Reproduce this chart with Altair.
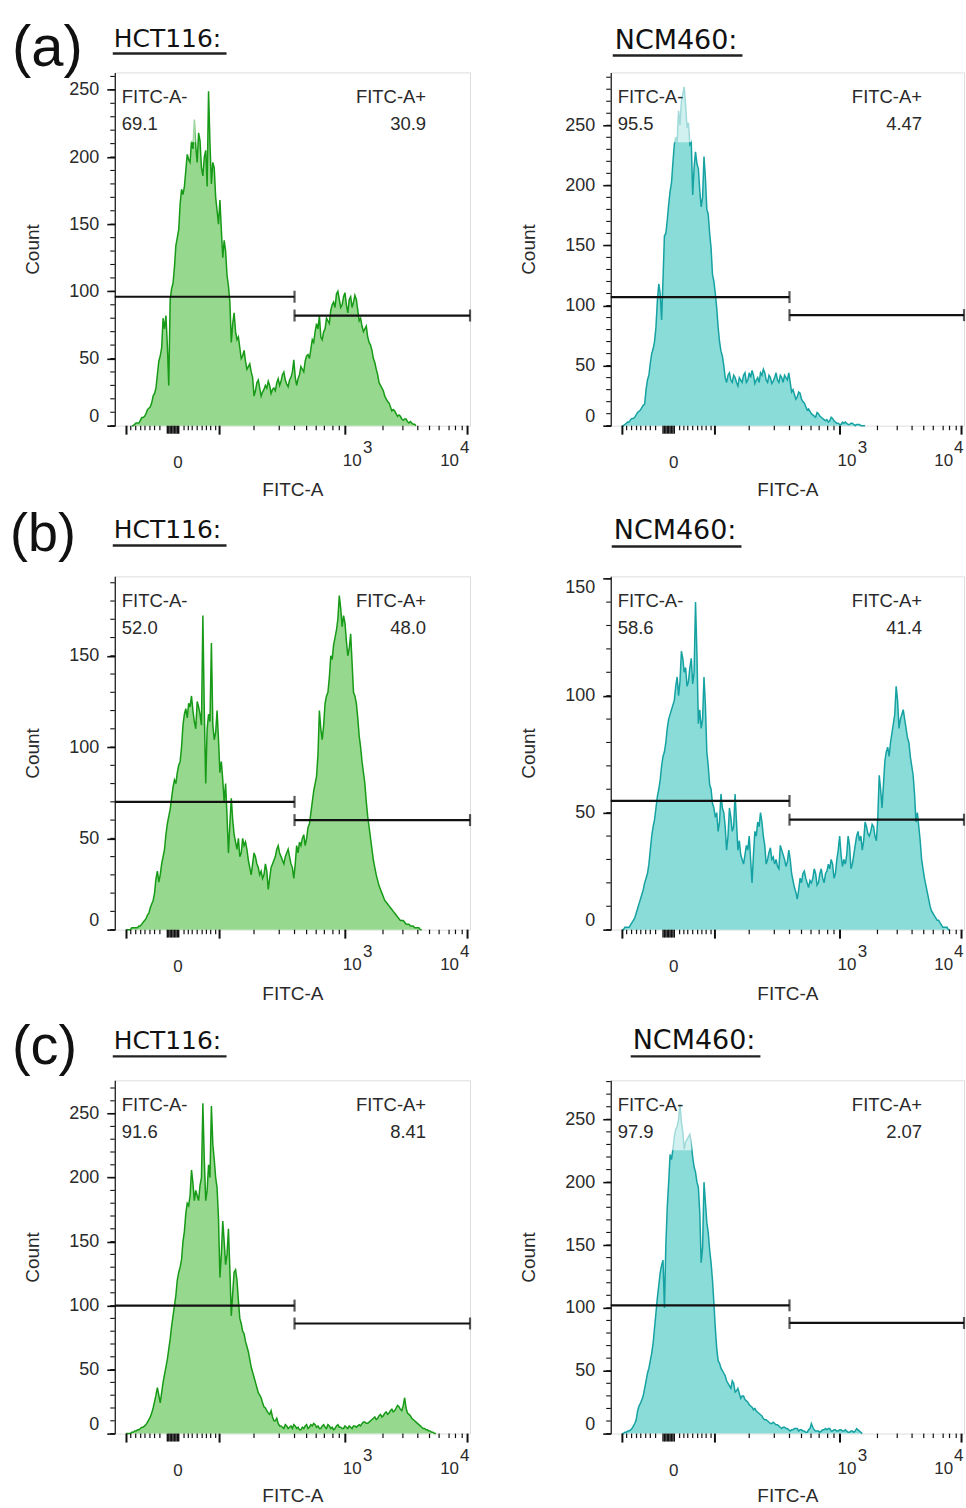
import altair as alt
import pandas as pd

# ---------------- data (x = display channel 0..1000 across the plot, y = count) ----------------
# Each histogram: counts on an 8-channel grid plus the counts of the in-between bins (half grid),
# read from the picture.
STEP = 8

A_HCT_START = 48
A_HCT_COUNTS = [0, 1, 2, 4, 6, 9, 13, 17, 24, 38, 52, 80, 82, 30, 102, 118, 140, 165, 172, 190, 198, 212,
                228, 196, 212, 186, 205, 249, 180, 192, 160, 168, 125, 130, 104, 62, 84, 64, 58, 52, 48, 44,
                40, 22, 32, 28, 25, 30, 33, 24, 28, 32, 30, 38, 34, 29, 36, 49, 30, 38, 42, 48, 53, 57, 62,
                76, 82, 64, 72, 78, 86, 92, 98, 94, 90, 99, 84, 96, 92, 94, 78, 74, 72, 66, 60, 50, 42, 32,
                28, 22, 18, 14, 12, 9, 8, 5, 5, 3, 3, 1, 0]
A_HCT_HALF = [0, 2, 2, 6, 7, 12, 14, 22, 28, 48, 58, 72, 60, 94, 106, 134, 146, 176, 178, 202, 196, 206,
              208, 218, 192, 200, 178, 210, 196, 170, 150, 146, 138, 112, 92, 76, 70, 66, 50, 56, 42, 46,
              36, 26, 34, 22, 27, 28, 30, 27, 26, 35, 33, 40, 31, 34, 40, 36, 35, 44, 40, 52, 50, 64, 70,
              72, 66, 70, 80, 76, 90, 88, 100, 88, 96, 90, 94, 88, 97, 86, 80, 70, 74, 62, 56, 47, 38, 30,
              26, 20, 17, 11, 11, 7, 7, 4, 5, 2, 2, 1]

A_NCM_START = 32
A_NCM_COUNTS = [0, 1, 3, 5, 6, 9, 12, 15, 18, 38, 52, 64, 82, 118, 88, 158, 171, 195, 219, 240, 262, 270,
                282, 248, 234, 192, 228, 214, 182, 224, 180, 160, 126, 110, 82, 62, 50, 36, 44, 36, 40, 33,
                38, 42, 36, 44, 46, 35, 40, 44, 47, 38, 42, 35, 40, 38, 42, 36, 40, 44, 28, 26, 24, 27, 20,
                16, 14, 10, 8, 11, 8, 6, 4, 3, 7, 4, 2, 1, 3, 3, 1, 2, 1, 1, 1, 0, 0]
A_NCM_HALF = [0, 2, 3, 6, 7, 11, 13, 17, 30, 42, 60, 70, 104, 110, 122, 160, 184, 202, 234, 236, 250, 276,
              266, 252, 236, 215, 218, 196, 190, 206, 176, 148, 120, 98, 70, 58, 40, 42, 38, 42, 36, 40,
              36, 44, 38, 40, 42, 38, 36, 42, 44, 36, 40, 37, 44, 36, 40, 42, 38, 36, 30, 22, 28, 22, 19,
              13, 12, 9, 7, 10, 7, 5, 5, 4, 6, 3, 2, 1, 2, 2, 1, 2, 0, 1, 0, 0]

B_HCT_START = 32
B_HCT_COUNTS = [0, 0, 1, 1, 1, 2, 4, 6, 9, 14, 20, 32, 30, 40, 52, 62, 72, 82, 86, 92, 112, 121, 124, 128,
                114, 125, 118, 172, 80, 118, 157, 104, 120, 86, 82, 80, 42, 72, 52, 44, 40, 50, 48, 38, 30,
                42, 36, 30, 28, 36, 22, 34, 38, 44, 42, 38, 40, 44, 36, 28, 46, 48, 50, 46, 56, 64, 76, 84,
                120, 104, 124, 130, 150, 156, 164, 183, 166, 168, 150, 162, 130, 124, 106, 92, 80, 62, 50,
                38, 30, 24, 20, 16, 14, 12, 10, 8, 6, 5, 4, 3, 2, 2, 1, 1, 0]
B_HCT_HALF = [0, 0, 1, 1, 2, 3, 5, 8, 12, 16, 28, 26, 36, 44, 58, 66, 78, 80, 90, 100, 118, 116, 122, 120,
              110, 122, 112, 120, 110, 114, 112, 108, 104, 92, 70, 62, 58, 60, 48, 50, 42, 46, 44, 34, 36,
              40, 34, 32, 30, 32, 28, 36, 40, 46, 40, 36, 42, 40, 34, 36, 42, 46, 52, 50, 58, 70, 80, 96,
              110, 112, 128, 138, 148, 160, 170, 176, 172, 158, 154, 146, 128, 116, 100, 86, 70, 56, 44,
              34, 27, 22, 18, 15, 13, 11, 9, 7, 5, 5, 3, 3, 2, 1, 1, 0]

B_NCM_START = 32
B_NCM_COUNTS = [0, 1, 1, 2, 4, 7, 11, 15, 20, 24, 34, 44, 52, 60, 70, 76, 86, 92, 96, 104, 100, 119, 110,
                104, 112, 105, 140, 88, 86, 108, 76, 62, 54, 48, 42, 58, 50, 34, 52, 42, 58, 34, 32, 28, 36,
                40, 20, 42, 46, 50, 40, 28, 33, 30, 28, 27, 36, 32, 27, 34, 24, 18, 13, 22, 24, 22, 18, 20,
                26, 19, 24, 22, 24, 28, 30, 22, 30, 40, 27, 28, 40, 26, 32, 40, 38, 34, 46, 41, 42, 44, 38,
                66, 52, 72, 78, 80, 88, 104, 86, 92, 90, 82, 74, 66, 46, 44, 30, 22, 16, 10, 7, 5, 4, 2, 1,
                1, 0]
B_NCM_HALF = [0, 1, 1, 3, 5, 9, 13, 17, 22, 28, 40, 47, 57, 64, 74, 80, 90, 94, 98, 108, 106, 116, 112,
              106, 116, 110, 118, 94, 90, 96, 70, 60, 52, 50, 46, 52, 44, 40, 48, 44, 46, 38, 30, 32, 34,
              30, 32, 40, 44, 46, 36, 30, 35, 31, 30, 26, 34, 30, 29, 30, 21, 16, 17, 20, 25, 20, 21, 22,
              24, 20, 26, 20, 25, 26, 28, 24, 34, 32, 30, 32, 36, 28, 36, 42, 40, 38, 44, 40, 45, 40, 48,
              60, 62, 76, 74, 84, 92, 98, 90, 94, 86, 80, 70, 58, 50, 38, 26, 19, 13, 8, 6, 4, 3, 1, 1, 0]

C_HCT_START = 32
C_HCT_COUNTS = [0, 0, 1, 2, 3, 4, 5, 7, 11, 16, 25, 36, 24, 40, 52, 66, 84, 100, 120, 130, 150, 172, 178,
                206, 182, 186, 194, 258, 182, 210, 256, 214, 192, 122, 166, 132, 160, 92, 126, 120, 90, 80,
                72, 64, 52, 44, 36, 30, 24, 20, 16, 18, 10, 12, 6, 5, 7, 4, 6, 7, 4, 3, 5, 6, 4, 7, 8, 5, 4,
                6, 5, 7, 4, 3, 6, 5, 4, 6, 4, 5, 6, 5, 7, 8, 9, 8, 10, 12, 11, 14, 13, 16, 15, 18, 17, 20,
                21, 18, 28, 16, 14, 11, 9, 7, 5, 4, 3, 2, 1, 0]
C_HCT_HALF = [0, 0, 1, 2, 3, 5, 6, 9, 13, 20, 30, 30, 32, 46, 58, 74, 92, 108, 126, 136, 158, 180, 186,
              196, 190, 182, 200, 214, 190, 200, 226, 200, 168, 140, 150, 140, 128, 110, 128, 104, 86, 78,
              68, 58, 48, 40, 32, 28, 21, 18, 15, 13, 10, 8, 6, 4, 6, 5, 4, 6, 5, 3, 4, 7, 5, 6, 7, 6, 4,
              7, 4, 6, 5, 4, 7, 5, 4, 5, 6, 4, 6, 6, 6, 9, 8, 9, 11, 13, 12, 15, 14, 17, 16, 19, 18, 22,
              19, 22, 20, 15, 12, 10, 8, 6, 4, 3, 2, 1, 0]

C_NCM_START = 32
C_NCM_COUNTS = [0, 1, 2, 3, 6, 11, 22, 27, 36, 48, 58, 72, 96, 118, 134, 100, 180, 222, 226, 242, 250, 248,
                226, 234, 238, 220, 208, 196, 136, 200, 168, 146, 122, 84, 58, 52, 48, 42, 38, 42, 33, 36,
                28, 30, 26, 23, 21, 20, 17, 15, 12, 11, 9, 8, 8, 7, 5, 5, 4, 3, 3, 4, 4, 3, 2, 1, 3, 8, 3,
                2, 1, 3, 4, 4, 2, 3, 2, 3, 2, 3, 1, 2, 1, 4, 2, 0]
C_NCM_HALF = [0, 1, 2, 4, 8, 18, 24, 30, 42, 52, 64, 84, 108, 128, 138, 150, 200, 218, 236, 244, 262, 240,
              232, 236, 230, 212, 200, 176, 148, 184, 160, 136, 104, 68, 56, 50, 46, 40, 36, 40, 34, 32,
              30, 27, 25, 22, 19, 18, 16, 14, 11, 10, 8, 9, 7, 6, 4, 5, 4, 2, 3, 4, 2, 3, 2, 1, 4, 5, 2,
              2, 2, 3, 3, 4, 2, 3, 2, 3, 2, 2, 1, 2, 2, 3, 1]

# gate heights (count units): [left gate, right gate]; gate split channel
GATE_SPLIT = 506
GATES = {"a_l": [96, 82], "a_r": [107, 92], "b_l": [70, 60], "b_r": [55, 47], "c_l": [100, 86], "c_r": [102, 88]}
PERCENT = {"a_l": ["69.1", "30.9"], "a_r": ["95.5", "4.47"], "b_l": ["52.0", "48.0"],
           "b_r": ["58.6", "41.4"], "c_l": ["91.6", "8.41"], "c_r": ["97.9", "2.07"]}
Y_MAX = {"a_l": 263, "a_r": 294, "b_l": 193.5, "b_r": 151, "c_l": 276, "c_r": 281}
Y_TICKS_250 = [0, 50, 100, 150, 200, 250]
Y_TICKS_150 = [0, 50, 100, 150]

# x-axis (biexponential display) tick positions in channel units
X_MAJOR = [33, 295, 649, 993]
X_ZERO = [148, 152, 156, 160, 164, 168, 172, 176, 180]
X_MINOR = [45, 59, 73, 85, 99, 112, 127, 195, 207, 218, 232, 246, 258, 270, 284,
           392, 463, 506, 540, 567, 590, 614, 632, 755, 811, 853, 886, 913, 941, 959, 978]
X_LABEL_ZERO = 178
X_LABEL_DECADES = [(642, 699, "3"), (916, 972, "4")]

GREEN_LINE, GREEN_FILL = "#179a17", "#96d98e"
TEAL_LINE, TEAL_FILL = "#16a2a2", "#8adcd8"

W_L, W_R, H = 356, 354, 354
FONT = "Liberation Sans"
HEAD_FONT = "DejaVu Sans"
TXT = "#2a2a2a"


def hist_frame(start, counts, half):
    chs, vals = [], []
    for i, c in enumerate(counts):
        chs.append(start + STEP * i)
        vals.append(c)
        if i < len(half) and i < len(counts) - 1:
            chs.append(start + STEP * i + STEP // 2)
            vals.append(half[i])
    return pd.DataFrame({"ch": chs, "count": vals})


def txt(s, x, y, size, font=FONT, align="left", color=TXT):
    return alt.Chart(pd.DataFrame({"t": [s]})).mark_text(
        align=align, baseline="alphabetic", font=font, fontSize=size, color=color
    ).encode(x=alt.value(x), y=alt.value(y), text="t:N")


def hrule(x1, x2, y, width):
    return alt.Chart(pd.DataFrame({"a": [0]})).mark_rule(color="#222", strokeWidth=width).encode(
        x=alt.value(x1), x2=alt.value(x2), y=alt.value(y))


def panel(key, start, counts, half, W, line_c, fill_c, yticks, heads, anchor=False):
    ymax = Y_MAX[key]
    df = hist_frame(start, counts, half)
    xs = alt.Scale(domain=[0, 1000], nice=False, zero=False)
    ys = alt.Scale(domain=[0, ymax], nice=False, zero=True)
    X = alt.X("ch:Q", scale=xs, axis=alt.Axis(
        title="FITC-A", labels=False, ticks=False, domain=False, grid=False,
        titleX=W / 2, titleY=heads["xt"], titleBaseline="alphabetic", titleFont=FONT,
        titleFontSize=19, titleFontWeight="normal", titleColor=TXT))
    Y = alt.Y("count:Q", scale=ys, axis=alt.Axis(
        values=yticks, title="Count", grid=False, tickSize=8, tickWidth=1.6, tickColor="#111",
        domainColor="#111", domainWidth=1.2, labelFont=FONT, labelFontSize=18, labelColor=TXT,
        labelPadding=8, labelFlush=4, titleFont=FONT, titleFontSize=19, titleFontWeight="normal",
        titleColor=TXT, titleX=-76, titleY=H / 2, titleBaseline="alphabetic"))

    layers = []
    layers.append(alt.Chart(df).mark_area(color=fill_c, opacity=1).encode(x=X, y=Y))
    layers.append(alt.Chart(df).mark_line(color=line_c, strokeWidth=1.5).encode(x=X, y=Y))
    # translucent label box (as in the cytometry software export)
    layers.append(alt.Chart(pd.DataFrame({"a": [0]})).mark_rect(color="white", opacity=0.6).encode(
        x=alt.value(4), x2=alt.value(81), y=alt.value(8), y2=alt.value(70)))

    g_left, g_right = GATES[key]
    gdf = pd.DataFrame({"ch": [0, GATE_SPLIT], "ch2": [GATE_SPLIT, 1000], "count": [g_left, g_right]})
    layers.append(alt.Chart(gdf).mark_rule(color="#111", strokeWidth=2.2).encode(x=X, x2="ch2:Q", y=Y))
    tdf = pd.DataFrame({"ch": [GATE_SPLIT, GATE_SPLIT, 1000], "count": [g_left, g_right, g_right]})
    layers.append(alt.Chart(tdf).mark_tick(color="#111", orient="vertical", size=12, thickness=2.2).encode(x=X, y=Y))

    neg, pos = PERCENT[key]
    layers += [txt("FITC-A-", 7, 31, 18.5), txt(neg, 7, 58, 18.5),
               txt("FITC-A+", 312, 31, 18.5, align="right"), txt(pos, 312, 58, 18.5, align="right")]

    # x ticks
    layers.append(alt.Chart(pd.DataFrame({"ch": X_MAJOR})).mark_rule(color="#111", strokeWidth=2).encode(
        x=X, y=alt.value(H), y2=alt.value(H + 9)))
    layers.append(alt.Chart(pd.DataFrame({"ch": X_ZERO})).mark_rule(color="#111", strokeWidth=1.4).encode(
        x=X, y=alt.value(H), y2=alt.value(H + 8)))
    layers.append(alt.Chart(pd.DataFrame({"ch": X_MINOR})).mark_rule(color="#111", strokeWidth=1.2).encode(
        x=X, y=alt.value(H), y2=alt.value(H + 4.5)))
    # x tick labels
    layers.append(alt.Chart(pd.DataFrame({"ch": [X_LABEL_ZERO], "t": ["0"]})).mark_text(
        align="center", baseline="alphabetic", font=FONT, fontSize=17, color=TXT).encode(
        x=X, y=alt.value(H + 42), text="t:N"))
    layers.append(alt.Chart(pd.DataFrame({"ch": [d[0] for d in X_LABEL_DECADES], "t": ["10", "10"]})).mark_text(
        align="left", baseline="alphabetic", font=FONT, fontSize=17, color=TXT).encode(
        x=X, y=alt.value(H + 40), text="t:N"))
    layers.append(alt.Chart(pd.DataFrame({"ch": [d[1] for d in X_LABEL_DECADES], "t": [d[2] for d in X_LABEL_DECADES]})).mark_text(
        align="left", baseline="alphabetic", font=FONT, fontSize=17, color=TXT).encode(
        x=X, y=alt.value(H + 27), text="t:N"))
    # y minor ticks
    ymin = pd.DataFrame({"count": list(range(0, int(ymax) + 1, 10))})
    layers.append(alt.Chart(ymin).mark_rule(color="#111", strokeWidth=1.1).encode(
        y=Y, x=alt.value(-4.5), x2=alt.value(0)))

    # headers
    if heads.get("letter"):
        layers.append(txt(heads["letter"], heads["lx"], heads["ly"], heads["lsize"], color="#111"))
    layers.append(txt(heads["title"], heads["tx"], heads["ty"], heads["tsize"], font=HEAD_FONT, color="#111"))
    layers.append(hrule(heads["ux1"], heads["ux2"], heads["uy"], 2.5))

    if anchor:
        layers.append(alt.Chart(pd.DataFrame({"a": [0]})).mark_rule(opacity=0).encode(
            x=alt.value(-114), x2=alt.value(-113), y=alt.value(-70), y2=alt.value(-69)))

    return alt.layer(*layers).properties(width=W, height=H)


a_l = panel("a_l", A_HCT_START, A_HCT_COUNTS, A_HCT_HALF, W_L, GREEN_LINE, GREEN_FILL, Y_TICKS_250,
            dict(letter="(a)", lx=-103, ly=-6, lsize=58, title="HCT116:", tx=-1, ty=-25, tsize=25,
                 ux1=-2, ux2=112, uy=-19, xt=70), anchor=True)
a_r = panel("a_r", A_NCM_START, A_NCM_COUNTS, A_NCM_HALF, W_R, TEAL_LINE, TEAL_FILL, Y_TICKS_250,
            dict(title="NCM460:", tx=4, ty=-23, tsize=27, ux1=2, ux2=132, uy=-17, xt=70))
b_l = panel("b_l", B_HCT_START, B_HCT_COUNTS, B_HCT_HALF, W_L, GREEN_LINE, GREEN_FILL, Y_TICKS_150,
            dict(letter="(b)", lx=-105, ly=-25, lsize=54, title="HCT116:", tx=-1, ty=-38, tsize=25,
                 ux1=-2, ux2=112, uy=-31, xt=70))
b_r = panel("b_r", B_NCM_START, B_NCM_COUNTS, B_NCM_HALF, W_R, TEAL_LINE, TEAL_FILL, Y_TICKS_150,
            dict(title="NCM460:", tx=3, ty=-37, tsize=27, ux1=1, ux2=131, uy=-30, xt=70))
c_l = panel("c_l", C_HCT_START, C_HCT_COUNTS, C_HCT_HALF, W_L, GREEN_LINE, GREEN_FILL, Y_TICKS_250,
            dict(letter="(c)", lx=-103, ly=-16, lsize=56, title="HCT116:", tx=-1, ty=-31, tsize=25,
                 ux1=-2, ux2=112, uy=-24, xt=68))
c_r = panel("c_r", C_NCM_START, C_NCM_COUNTS, C_NCM_HALF, W_R, TEAL_LINE, TEAL_FILL, Y_TICKS_250,
            dict(title="NCM460:", tx=22, ty=-31, tsize=27, ux1=20, ux2=150, uy=-24, xt=68))

chart = alt.concat(a_l, a_r, b_l, b_r, c_l, c_r, columns=2,
                   spacing={"row": 151, "column": 141}, bounds="flush", padding=0
                   ).resolve_scale(x="independent", y="independent").configure_view(
    stroke="#111", strokeWidth=1.2).configure(background="white")

chart.save("out.html", embed_options={"renderer": "svg", "actions": False})
